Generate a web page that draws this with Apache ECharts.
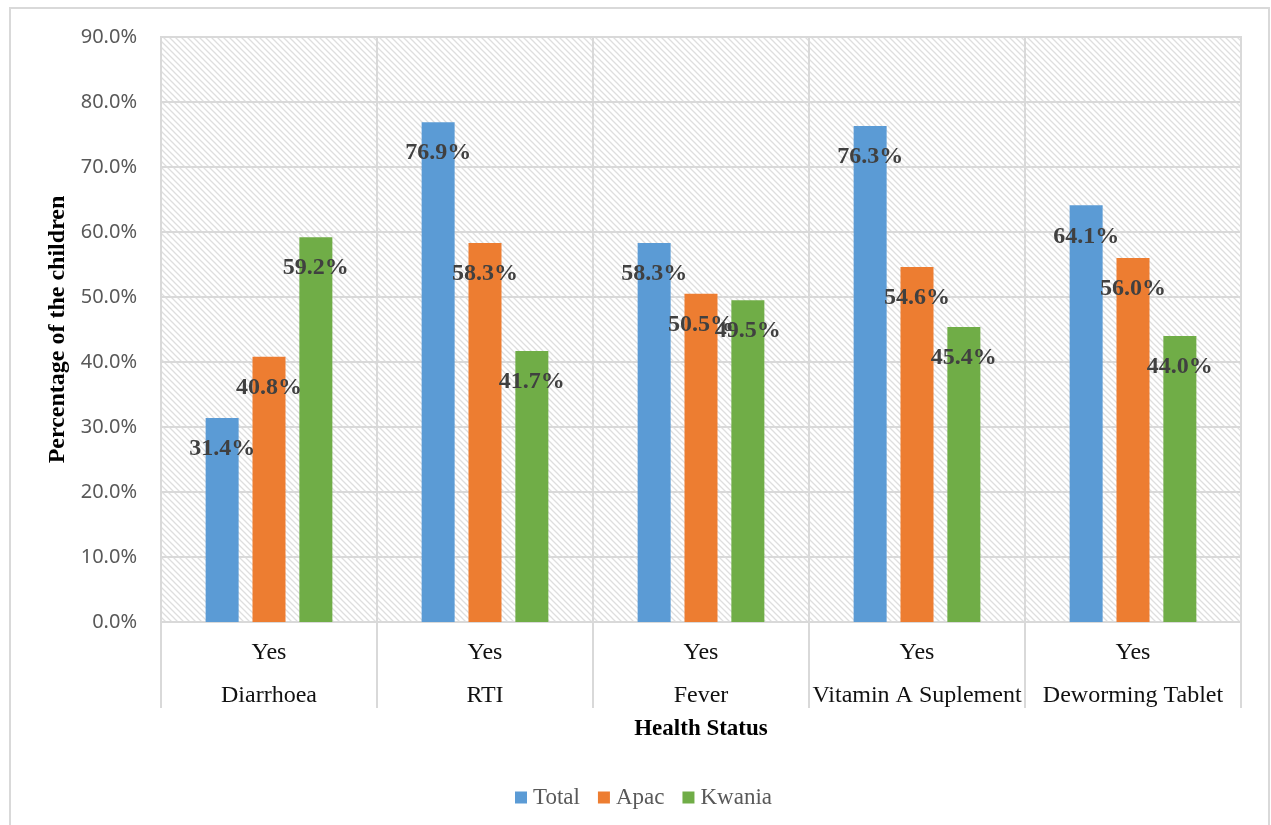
<!DOCTYPE html>
<html>
<head>
<meta charset="utf-8">
<script src="https://cdn.jsdelivr.net/npm/echarts@6/dist/echarts.min.js"></script>
<style>
  html, body { margin: 0; padding: 0; background: #fff; }
  #chart { width: 1271px; height: 825px; }
</style>
</head>
<body>
<div id="chart"></div>
<script>
// 数据
const categories = ['Diarrhoea', 'RTI', 'Fever', 'Vitamin A Suplement', 'Deworming Tablet']
const subLabel = 'Yes'
const totalValues = [31.4, 76.9, 58.3, 76.3, 64.1]
const apacValues = [40.8, 58.3, 50.5, 54.6, 56.0]
const kwaniaValues = [59.2, 41.7, 49.5, 45.4, 44.0]
const yTicks = { min: 0, max: 90, interval: 10 }

// 斜线底纹
function makeHatch() {
  const c = document.createElement('canvas')
  c.width = 6
  c.height = 6
  const ctx = c.getContext('2d')
  ctx.fillStyle = '#ffffff'
  ctx.fillRect(0, 0, 6, 6)
  ctx.strokeStyle = '#dedede'
  ctx.lineWidth = 1.3
  ctx.beginPath()
  ctx.moveTo(-1, -1); ctx.lineTo(7, 7)
  ctx.moveTo(-1, 5); ctx.lineTo(1, 7)
  ctx.moveTo(5, -1); ctx.lineTo(7, 1)
  ctx.stroke()
  return c
}

const serif = '"Liberation Serif", "Times New Roman", serif'
const gridColor = '#d9d9d9'

function barSeries(name, data, color) {
  return {
    name,
    type: 'bar',
    data,
    barWidth: 33,
    barGap: '42%',
    itemStyle: { color },
    label: {
      show: true,
      position: 'insideTop',
      distance: 19,
      formatter: p => p.value.toFixed(1) + '%',
      fontFamily: serif,
      fontWeight: 'bold',
      fontSize: 24,
      color: '#404040'
    }
  }
}

const chart = echarts.init(document.getElementById('chart'))
chart.setOption({
  backgroundColor: '#ffffff',
  animation: false,
  graphic: [{
    type: 'rect',
    shape: { x: 10, y: 8, width: 1259, height: 830 },
    style: { fill: 'none', stroke: gridColor, lineWidth: 2 },
    silent: true,
    z: -10
  }],
  grid: {
    left: 161,
    right: 30,
    top: 37,
    bottom: 203,
    show: true,
    backgroundColor: { image: makeHatch(), repeat: 'repeat' },
    borderColor: gridColor,
    borderWidth: 2
  },
  legend: {
    bottom: 11,
    left: 510,
    itemWidth: 12,
    itemHeight: 12,
    itemGap: 18,
    icon: 'rect',
    textStyle: { fontFamily: serif, fontSize: 23, color: '#595959', padding: [0, 0, 0, 1] }
  },
  xAxis: {
    type: 'category',
    data: categories,
    name: 'Health Status',
    nameLocation: 'middle',
    nameGap: 96,
    nameTextStyle: { fontFamily: serif, fontWeight: 'bold', fontSize: 23, color: '#000' },
    axisLine: { lineStyle: { color: gridColor, width: 2 } },
    axisTick: { show: true, alignWithLabel: false, interval: 0, inside: false, length: 86, lineStyle: { color: gridColor, width: 2 } },
    splitLine: { show: true, lineStyle: { color: gridColor, width: 2 } },
    axisLabel: {
      margin: 9,
      interval: 0,
      formatter: v => '{a|' + subLabel + '}\n{b|' + v + '}',
      rich: {
        a: { fontFamily: serif, fontSize: 24, color: '#111', lineHeight: 43 },
        b: { fontFamily: serif, fontSize: 24, color: '#111', lineHeight: 43 }
      }
    }
  },
  yAxis: {
    type: 'value',
    min: yTicks.min,
    max: yTicks.max,
    interval: yTicks.interval,
    name: 'Percentage of the children',
    nameLocation: 'middle',
    nameGap: 90,
    nameTextStyle: { fontFamily: serif, fontWeight: 'bold', fontSize: 24, color: '#000' },
    axisLine: { show: false },
    axisTick: { show: false },
    splitLine: { lineStyle: { color: gridColor, width: 2 } },
    axisLabel: {
      margin: 24,
      formatter: v => v.toFixed(1) + '%',
      fontFamily: '"Noto Sans", "Open Sans", sans-serif',
      fontSize: 20,
      color: '#595959'
    }
  },
  series: [
    barSeries('Total', totalValues, '#5b9bd5'),
    barSeries('Apac', apacValues, '#ed7d31'),
    barSeries('Kwania', kwaniaValues, '#70ad47')
  ]
})
</script>
</body>
</html>
